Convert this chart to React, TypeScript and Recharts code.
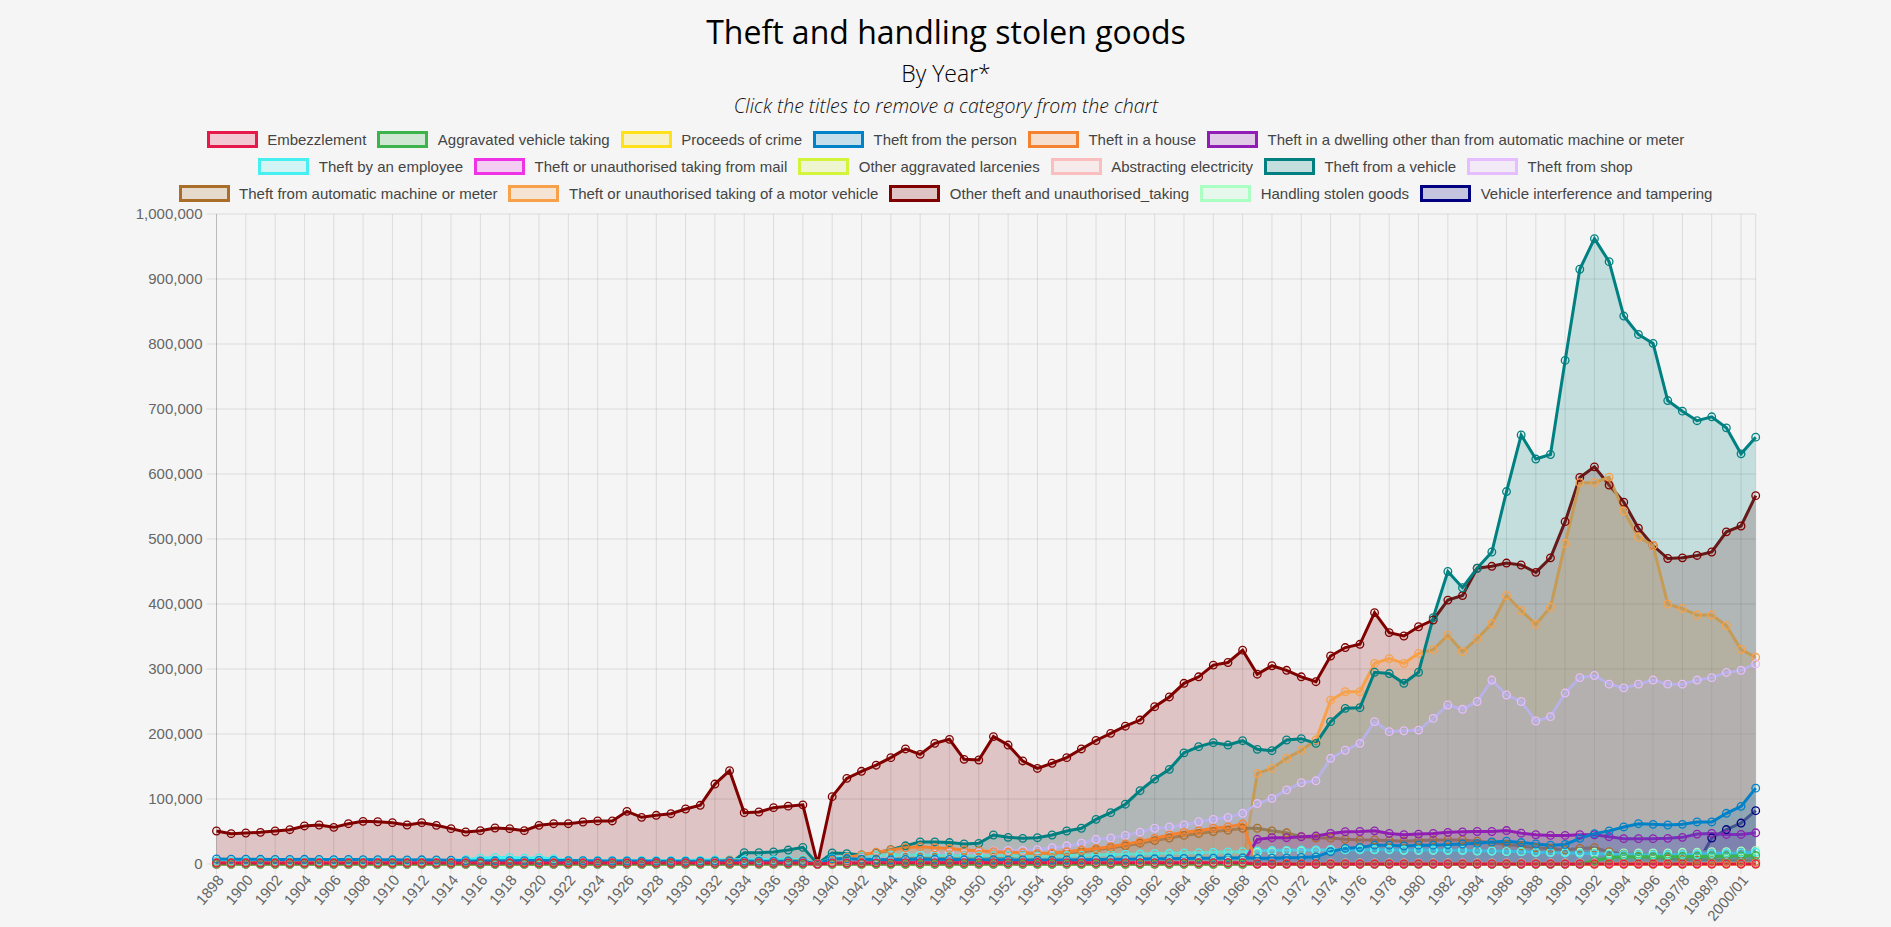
import React from 'react';
import { ComposedChart, Area, XAxis, YAxis, CartesianGrid } from 'recharts';

// ---------- categories ----------
const YEARS: string[] = [
  '1898','1899','1900','1901','1902','1903','1904','1905','1906','1907',
  '1908','1909','1910','1911','1912','1913','1914','1915','1916','1917',
  '1918','1919','1920','1921','1922','1923','1924','1925','1926','1927',
  '1928','1929','1930','1931','1932','1933','1934','1935','1936','1937',
  '1938','1939','1940','1941','1942','1943','1944','1945','1946','1947',
  '1948','1949','1950','1951','1952','1953','1954','1955','1956','1957',
  '1958','1959','1960','1961','1962','1963','1964','1965','1966','1967',
  '1968','1969','1970','1971','1972','1973','1974','1975','1976','1977',
  '1978','1979','1980','1981','1982','1983','1984','1985','1986','1987',
  '1988','1989','1990','1991','1992','1993','1994','1995','1996','1997',
  '1997/8','1998/9','1998/9','1999/00','2000/01','2001/02',
];

const Y_TICKS = [0, 100000, 200000, 300000, 400000, 500000, 600000, 700000, 800000, 900000, 1000000];

// ---------- series values (thousands of offences) ----------
// segments: 1898-1938 (41) | 1939 (1) | 1940-1968 (29) | 1969-1997 (29) | 1997/8-2001/02 (6)
const embezzlement = [
  1.5,1.5,1.5,1.5,1.5,1.5,1.5,1.5,1.5,1.5,1.5,1.5,1.5,1.5,1.5,1.5,1.5,1.5,1.5,1.5,
  1.5,1.5,1.5,1.5,1.5,1.5,1.5,1.5,1.5,1.5,1.5,1.5,1.5,1.5,1.5,1.5,1.5,1.5,1.5,1.5,1.5,
  0,
  1.5,1.5,1.5,1.8,1.8,2,2,2,2,2,2,2,2,2,2,2,2,2,2,2,2,2,2,2,2,2,2,2,2,
  0,0,0,0,0,0,0,0,0,0,0,0,0,0,0,0,0,0,0,0,0,0,0,0,0,0,0,0,0,
  0,0,0,0,0,0,
];
const aggravatedVehicleTaking = [
  0,0,0,0,0,0,0,0,0,0,0,0,0,0,0,0,0,0,0,0,0,0,0,0,0,0,0,0,0,0,0,0,0,0,0,0,0,0,0,0,0,
  0,
  0,0,0,0,0,0,0,0,0,0,0,0,0,0,0,0,0,0,0,0,0,0,0,0,0,0,0,0,0,
  0,0,0,0,0,0,0,0,0,0,0,0,0,0,0,0,0,0,0,0,0,0,0,5,10,11,11,11,11,
  11.5,11.5,12,12,12.5,13,
];
const proceedsOfCrime = [
  0,0,0,0,0,0,0,0,0,0,0,0,0,0,0,0,0,0,0,0,0,0,0,0,0,0,0,0,0,0,0,0,0,0,0,0,0,0,0,0,0,
  0,
  0,0,0,0,0,0,0,0,0,0,0,0,0,0,0,0,0,0,0,0,0,0,0,0,0,0,0,0,0,
  0,0,0,0,0,0,0,0,0,0,0,0,0,0,0,0,0,0,0,0,0,0,0,0,0,0,0,0,0,
  0,0,0.5,0.5,0.5,0.5,
];
const theftFromPerson = [
  7.7,7.5,7.3,7.2,7.0,7.0,7.2,7.0,6.8,6.9,6.8,6.7,6.5,6.3,6.5,6.2,5.8,5.0,4.8,4.9,
  5.0,5.2,5.4,5.5,5.2,5.0,4.8,4.6,4.6,4.5,4.4,4.3,4.3,4.4,4.6,4.7,4.5,4.4,4.3,4.2,4.2,
  0,
  8,8,7.5,7,6.5,7,7.5,7.2,7.0,6.5,6.3,6.5,6.4,6.2,6.0,6.0,6.2,6.5,7,7.2,7.5,7.8,8,8.2,8.5,8.8,9,9.2,9.5,
  8.7,9,9.5,10,11,19,24,25.6,29,29,27.7,29,29,30,30.8,31.8,34,35,33,30.8,29,30,39.5,46.7,51,57,62,61,60,
  61,64.7,64.7,78,88.7,116.7,
];
const theftInHouse = [
  2,2,2,2,2,2,2,2,2,2,2,2,2,2,2,2,2,2,2,2,2,2,2,2,2,2,2,2,2,2,2,2,2,2,4,6,4,4,4,4.5,5,
  0,
  6,10,14,18,21.5,25,26.7,25,24,21.5,20.5,19,18,17.4,16.4,17,19,21.5,24,26.7,30.8,34.4,39.5,44.6,48.7,51,55,57,61.5,
  0,0,0,0,0,0,0,0,0,0,0,0,0,0,0,0,0,0,0,0,0,0,0,0,0,0,0,0,0,
  0,0,0,0,0,0,
];
const theftInDwelling = [
  0,0,0,0,0,0,0,0,0,0,0,0,0,0,0,0,0,0,0,0,0,0,0,0,0,0,0,0,0,0,0,0,0,0,0,0,0,0,0,0,0,
  0,
  0,0,0,0,0,0,0,0,0,0,0,0,0,0,0,0,0,0,0,0,0,0,0,0,0,0,0,0,0,
  38,40.5,40.5,42,43,47,49.7,50,51,47,45,46,47,48.7,49.5,50,50,51.5,47.5,45,44,44,45,45,42,39,39,39,39.5,
  41,46,47,45.5,45.5,48,
];
const theftByEmployee = [
  4.5,4.5,4.6,4.6,4.7,4.7,4.8,4.8,4.9,4.9,5.0,5.0,5.0,5.0,5.0,5.0,5.5,7,9,10,
  10,9,9.5,8,6,5.5,5.5,5.5,5.5,5.5,5.5,5.5,5.5,6,6.5,6.5,6.5,6.5,6.5,7,7,
  0,
  9,11,12,13,14,14,14,13,13,12.5,12.5,13,13,12.5,12.5,12.5,13,13.5,14,14.5,15,15.5,16,16.5,17,17.5,18,18.5,19,
  20,21,21,21.5,21.5,22,22,22,22,22,21.5,21.5,21.5,21,21,20.5,20,19.5,19,18,17.5,17,16.5,16,15,14.5,14,14,14,
  14.5,15,16,16.5,17,18,
];
const theftFromMail = [
  1,1,1,1,1,1,1,1,1,1,1,1,1,1,1,1,1,1,1,1,1,1,1,1,1,1,1,1,1,1,1,1,1,1,1,1,1,1,1,1,1,
  0,
  1,1,1,1,1,1,1,1,1,1,1,1,1,1,1,1,1,1,1,1,1,1,1,1,1,1,1,1,1,
  1,1,1,1,1,1,1,1,1,1,1,1,1,1,1,1,1,1,1,1,1,1,1,1,1,1,1,1,1,
  1,1,1,1,1,1,
];
const otherAggravatedLarcenies = [
  0.5,0.5,0.5,0.5,0.5,0.5,0.5,0.5,0.5,0.5,0.5,0.5,0.5,0.5,0.5,0.5,0.5,0.5,0.5,0.5,
  0.5,0.5,0.5,0.5,0.5,0.5,0.5,0.5,0.5,0.5,0.5,0.5,0.5,0.5,0.5,0.5,0.5,0.5,0.5,0.5,0.5,
  0,
  0.5,0.5,0.5,0.5,0.5,0.5,0.5,0.5,0.5,0.5,0.5,0.5,0.5,0.5,0.5,0.5,0.5,0.5,0.5,0.5,0.5,0.5,0.5,0.5,0.5,0.5,0.5,0.5,0.5,
  0,0,0,0,0,0,0,0,0,0,0,0,0,0,0,0,0,0,0,0,0,0,0,0,0,0,0,0,0,
  0,0,0,0,0,0,
];
const abstractingElectricity = [
  1,1,1,1,1,1,1,1,1,1,1,1,1,1,1,1,1,1,1,1,1,1,1,1,1,1,1,1,1,1,1,1,1,1,1,1,1,1,1,1,1,
  0,
  1,1,1,1,1,1,1,1,1,1,1,1,1,1,1,1,1,1,1,1,1,1,1,1,1,1,1,1,1,
  1.5,1.5,1.5,1.5,1.5,1.5,1.5,1.5,1.5,1.5,1.5,1.5,1.5,1.5,1.5,1.5,1.5,1.5,1.5,1.5,1.5,1.5,1.5,1.5,1.5,1.5,1.5,1.5,1.5,
  1.5,1.5,1.5,1.5,1.5,1.5,
];
const theftFromVehicle = [
  0,0,0,0,0,0,0,0,0,0,0,0,0,0,0,0,0,0,0,0,0,0,0,0,0,0,0,0,0,0,0,0,0,0,0,0,17.4,17.4,18.5,21.5,25.6,
  0,
  17,16,14,17,22,28,34,34,33,30.8,31.8,44.6,41,39.5,40.5,44.6,50.8,55,68.7,79,92,112.8,130.8,145.6,171,180.5,186.7,183,189.7,
  176.4,174.4,190.8,192.8,185.6,219,239.5,240.5,295,293,278,295,379,450,425,455,480,573,660,623,630,774.7,915,962,926.7,843,814.7,801,713,
  696.7,682,688,671,631,656.7,
];
const theftFromShop = [
  0,0,0,0,0,0,0,0,0,0,0,0,0,0,0,0,0,0,0,0,0,0,0,0,0,0,0,0,0,0,0,0,0,0,0,0,0,0,0,0,0,
  0,
  5,7,9,10,12,13,14,15,17,16,17,20,21,21,22,25,28,32,38,40,44,49,55,57,60,65,68.7,71.8,78,
  93,101,114,125,128,162.6,175,185.6,219,203.6,205,206,224,244.6,238,250,283,260,250,220,226.7,263,286.7,290,276.7,271,276.7,283,276.7,
  276.7,283,286.7,294.7,298,308,
];
const theftFromMeter = [
  1.5,1.5,1.5,1.5,1.5,1.5,1.5,1.5,1.5,1.5,1.5,1.5,1.5,1.5,1.5,1.5,1.5,1.5,1.5,1.5,
  1.5,1.5,1.5,1.5,1.5,1.5,1.5,1.5,2,2.5,3,3.5,4,4.5,5,5,5,5.5,5.5,6,6,
  0,
  5,6,7,8,9,10,10,10,10,10,10,11,12,13,14,15,17,19,22,25,28,32,36,40,44,47,50,52,55,
  55,51,48,42,40,40,38,37,37,36,35,36,37,37,37,35,33,30,28,25,24,22,24,25,19,15,12,10,8,
  7,6,6,5,5,4,
];
const theftOfMotorVehicle = [
  0,0,0,0,0,0,0,0,0,0,0,0,0,0,0,0,0,0,0,0,0,0,0,0,0,0,0,0,0,0,0,0,0,0,0,0,0,0,0,0,0,
  0,
  0,0,0,0,0,0,0,0,0,0,0,0,0,0,0,0,0,0,0,0,0,0,0,0,0,0,0,0,0,
  139.5,147,162.6,175,190.8,252,265,265,308.7,316,308.7,324,330,352,326.7,346.7,370,413,390,368.7,395,493,586.7,586.7,595,543,503,490,400,
  393,383,383,366.7,330,318,
];
const otherTheft = [
  50.8,46.7,47.7,48.7,50.8,52.8,58.5,60,56.4,62,65.6,65,63.6,60,63.6,59.5,54.4,49.2,51.3,55.4,
  54.4,51.3,59.5,62,62,64.6,66.2,66.2,81,71.8,74.9,77.4,84.6,90.3,123,143.6,79,80,86.7,89,91,
  0,
  103.6,131.8,142.6,152,163.6,177,168.7,185.6,191.8,161,160,196,183,158.5,147,155,163.6,177,190,201,212,221.5,242,257,278,288,306,310,329,
  292,305,298,288,280.5,320,333,338,386.7,356,350.8,365,375.4,406,413,455,458,463,460,448.7,471,526.7,594.7,611,583,556.7,516.7,490,470,
  471,474.7,480,511,520,566.7,
];
const handlingStolenGoods = [
  1.5,1.5,1.5,1.5,1.5,1.5,1.5,1.5,1.5,1.5,1.5,1.5,1.5,1.5,1.5,1.5,1.5,1.5,1.5,1.5,
  1.5,1.5,1.5,1.5,1.5,1.5,1.5,1.5,1.5,1.5,1.5,1.5,1.5,1.5,1.5,1.5,1.5,1.5,1.5,1.5,1.5,
  0,
  2,2,2,2,2,2,2,2,2,2,2.5,2.5,2.5,2.5,2.5,2.5,3,3,3,3,3,3.5,3.5,3.5,3.5,4,4,4,4,
  18,19,20,20,21,22,22,22,22,22,21,21,21,21,21,20,20,19,19,18,18,18,18,18,17,17,17,17,17,
  18,18,19,19,20,21,
];
const vehicleInterference = [
  0,0,0,0,0,0,0,0,0,0,0,0,0,0,0,0,0,0,0,0,0,0,0,0,0,0,0,0,0,0,0,0,0,0,0,0,0,0,0,0,0,
  0,
  0,0,0,0,0,0,0,0,0,0,0,0,0,0,0,0,0,0,0,0,0,0,0,0,0,0,0,0,0,
  0,0,0,0,0,0,0,0,0,0,0,0,0,0,0,0,0,0,0,0,0,0,0,0,0,0,0,0,0,
  0,0,40,53,63,82,
];

const SERIES_NAMES = [
  'Embezzlement', 'Aggravated vehicle taking', 'Proceeds of crime', 'Theft from the person',
  'Theft in a house', 'Theft in a dwelling other than from automatic machine or meter',
  'Theft by an employee', 'Theft or unauthorised taking from mail', 'Other aggravated larcenies',
  'Abstracting electricity', 'Theft from a vehicle', 'Theft from shop',
  'Theft from automatic machine or meter', 'Theft or unauthorised taking of a motor vehicle',
  'Other theft and unauthorised_taking', 'Handling stolen goods', 'Vehicle interference and tampering',
];
const SERIES_VALUES = [
  embezzlement, aggravatedVehicleTaking, proceedsOfCrime, theftFromPerson,
  theftInHouse, theftInDwelling, theftByEmployee, theftFromMail, otherAggravatedLarcenies,
  abstractingElectricity, theftFromVehicle, theftFromShop, theftFromMeter, theftOfMotorVehicle,
  otherTheft, handlingStolenGoods, vehicleInterference,
];
const SERIES_COLORS = [
  '#e6194b', '#3cb44b', '#ffe119', '#0082c8', '#f58231', '#911eb4', '#46f0f0', '#f032e6',
  '#d2f53c', '#fabebe', '#008080', '#e6beff', '#aa6e28', '#f7a24b', '#800000', '#aaffc3', '#000080',
];
const LEGEND_ROWS = [[0, 1, 2, 3, 4, 5], [6, 7, 8, 9, 10, 11], [12, 13, 14, 15, 16]];

const UNIT = 1000;
const DATA = YEARS.map((year, i) => {
  const row: Record<string, number | string> = { year };
  SERIES_VALUES.forEach((vals, s) => { row['s' + s] = vals[i] * UNIT; });
  return row;
});

const FONT = '"Liberation Sans", Arial, Helvetica, sans-serif';
const TITLE_FONT = '"Open Sans", "Noto Sans", sans-serif';
const BG = '#f5f5f5';
const GRID = 'rgba(0,0,0,0.1)';

function hexA(hex: string, a: number) {
  const n = parseInt(hex.slice(1), 16);
  return `rgba(${(n >> 16) & 255},${(n >> 8) & 255},${n & 255},${a})`;
}

const XTick = (props: any) => {
  const { x, y, payload } = props;
  const ax = x + 4;
  const ay = y;
  return (
    <text x={ax} y={ay} dy="0.35em" textAnchor="end" transform={`rotate(-50, ${ax}, ${ay})`}
      fill="#666" fontSize={15} fontFamily={FONT}>{payload.value}</text>
  );
};

export default function App() {
  const order = SERIES_NAMES.map((_, i) => i).reverse();
  return (
    <div style={{ position: 'absolute', left: 0, top: 0, width: 1891, height: 927, background: BG, overflow: 'hidden' }}>
      <div style={{ position: 'absolute', left: 0, top: 0 }}>
        <ComposedChart width={1891} height={927} data={DATA}
          margin={{ top: 214, right: 135.3, bottom: 0, left: 0 }}>
          <CartesianGrid stroke={GRID} strokeWidth={1} />
          <XAxis dataKey="year" interval={1} height={63} tick={<XTick />} tickSize={10} tickMargin={3}
            tickLine={{ stroke: GRID }} axisLine={{ stroke: 'rgba(0,0,0,0.15)' }} />
          <YAxis type="number" domain={[0, 1000000]} ticks={Y_TICKS} width={216.5} tickSize={10} tickMargin={4}
            tickFormatter={(v: number) => v.toLocaleString('en-US')}
            tick={{ fill: '#666', fontSize: 15, fontFamily: FONT }}
            tickLine={{ stroke: GRID }} axisLine={{ stroke: 'rgba(0,0,0,0.15)' }} />
          {order.map((s) => (
            <Area key={s} type="linear" dataKey={'s' + s} name={SERIES_NAMES[s]}
              stroke={SERIES_COLORS[s]} strokeWidth={3} fill={SERIES_COLORS[s]} fillOpacity={0.2}
              dot={{ r: 3.8, stroke: SERIES_COLORS[s], strokeWidth: 1.3, fill: hexA(SERIES_COLORS[s], 0.2) }}
              activeDot={false} isAnimationActive={false} />
          ))}
        </ComposedChart>
      </div>
      <svg width={1891} height={125} style={{ position: 'absolute', left: 0, top: 0, pointerEvents: 'none' }}>
        <text x={946} y={44} textAnchor="middle" fontFamily={TITLE_FONT} fontSize={32} fill="#000">Theft and handling stolen goods</text>
        <text x={946} y={81.5} textAnchor="middle" fontFamily={TITLE_FONT} fontSize={23} fontWeight={300} fill="#000">By Year*</text>
        <text x={946} y={113} textAnchor="middle" fontFamily={TITLE_FONT} fontSize={19.5} fontWeight={300} fontStyle="italic" fill="#111">Click the titles to remove a category from the chart</text>
      </svg>
      {LEGEND_ROWS.map((row, r) => (
        <div key={r} style={{ position: 'absolute', left: 0, top: 129 + r * 27, width: 1891, height: 20,
          display: 'flex', justifyContent: 'center', alignItems: 'center' }}>
          {row.map((s, k) => (
            <div key={s} style={{ display: 'flex', alignItems: 'center', marginLeft: k === 0 ? 0 : 11 }}>
              <div style={{ width: 51, height: 17, boxSizing: 'border-box', border: `3.5px solid ${SERIES_COLORS[s]}`,
                background: hexA(SERIES_COLORS[s], 0.2) }} />
              <span style={{ marginLeft: 9.5, fontFamily: FONT, fontSize: 15, color: '#444', whiteSpace: 'nowrap' }}>{SERIES_NAMES[s]}</span>
            </div>
          ))}
        </div>
      ))}
    </div>
  );
}
